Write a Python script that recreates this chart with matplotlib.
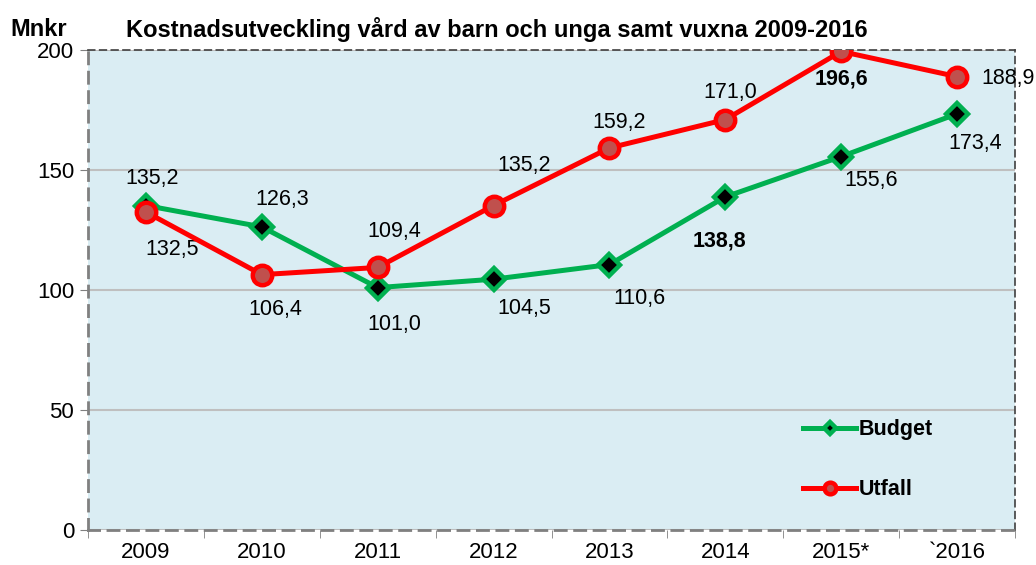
import matplotlib.pyplot as plt
from matplotlib.ticker import FixedLocator

plt.rcParams['font.family'] = ['Liberation Sans', 'DejaVu Sans']

years = ['2009', '2010', '2011', '2012', '2013', '2014', '2015*', '`2016']
budget = [135.2, 126.3, 101.0, 104.5, 110.6, 138.8, 155.6, 173.4]
utfall = [132.5, 106.4, 109.4, 135.2, 159.2, 171.0, 199.4, 188.9]
budget_labels = ['135,2', '126,3', '101,0', '104,5', '110,6', '138,8', '155,6', '173,4']
utfall_labels = ['132,5', '106,4', '109,4', '135,2', '159,2', '171,0', '196,6', '188,9']

# label offsets in pixels (dx, dy), dy up
budget_off = [(6, 27), (20, 27), (17, -37), (31, -29), (30, -34), (-6, -44), (30, -24), (18, -30)]
utfall_off = [(26, -38), (14, -35), (17, 36), (31, 40), (10, 25), (5, 27), (0, -28), (51, -2)]
budget_bold = [False, False, False, False, False, True, False, False]
utfall_bold = [False, False, False, False, False, False, True, False]

green = '#00B050'
red = '#FF0000'

fig = plt.figure(figsize=(10.36, 5.65), dpi=100)
ax = fig.add_axes([88 / 1036, 35 / 565, 927 / 1036, 480 / 565])
ax.set_facecolor('#DAEDF3')

x = list(range(len(years)))
ax.plot(x, budget, color=green, lw=3.6, marker='D', ms=11, mfc='black',
        mec=green, mew=3.2, label='Budget', zorder=3)
ax.plot(x, utfall, color=red, lw=3.6, marker='o', ms=14, mfc='#C0504D',
        mec=red, mew=3.2, label='Utfall', zorder=4)

for i in x:
    ax.annotate(budget_labels[i], (i, budget[i]), xytext=budget_off[i],
                textcoords='offset pixels', ha='center', va='center', fontsize=15.5,
                fontweight='bold' if budget_bold[i] else 'normal', annotation_clip=False)
    ax.annotate(utfall_labels[i], (i, utfall[i]), xytext=utfall_off[i],
                textcoords='offset pixels', ha='center', va='center', fontsize=15.5,
                fontweight='bold' if utfall_bold[i] else 'normal', annotation_clip=False)

ax.set_xlim(-0.5, len(years) - 0.5)
ax.set_ylim(0, 200)
ax.set_yticks([0, 50, 100, 150, 200])
ax.set_xticks(x)
ax.set_xticklabels(years)
ax.xaxis.set_minor_locator(FixedLocator([i - 0.5 for i in range(len(years) + 1)]))
ax.tick_params(axis='x', which='major', length=0, pad=9, labelsize=16)
ax.tick_params(axis='x', which='minor', length=6, color='#808080')
ax.tick_params(axis='y', length=6, color='#808080', labelsize=16, pad=4)
ax.grid(axis='y', color='#BFBFBF', lw=1.5)
ax.set_axisbelow(True)
for s in ax.spines.values():
    s.set_linestyle((0, (4, 3)))
    s.set_color('#404040')
    s.set_linewidth(1.2)
ax.spines['left'].set_color('#808080')
ax.spines['bottom'].set_color('#808080')
ax.spines['left'].set_linewidth(2)
ax.spines['bottom'].set_linewidth(2)

leg = ax.legend(loc='lower left', bbox_to_anchor=(0.75, 0.022), frameon=False,
                prop={'weight': 'bold', 'size': 15.5}, handlelength=2.5,
                labelspacing=1.8, handletextpad=0.1, markerscale=0.6)

fig.text(10 / 1036, 1 - 30 / 565, 'Mnkr', fontsize=17, fontweight='bold', va='center')
fig.text(497 / 1036, 1 - 30 / 565, 'Kostnadsutveckling vård av barn och unga samt vuxna 2009-2016',
         fontsize=17, fontweight='bold', va='center', ha='center')

fig.savefig('out.png', dpi=100)
